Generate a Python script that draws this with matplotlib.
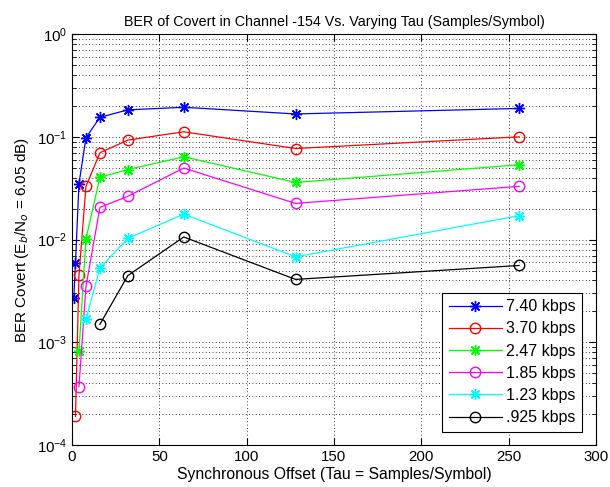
import numpy as np
import matplotlib.pyplot as plt
from matplotlib.ticker import LogLocator, NullFormatter

# ------------------------------------------------------------------
# DATI
# ------------------------------------------------------------------
x_740 = [1, 2, 4, 8, 16, 32, 64, 128, 256]
ber_740 = [0.0027, 0.0059, 0.035, 0.098, 0.155, 0.183, 0.194, 0.167, 0.189]

x_370 = [2, 4, 8, 16, 32, 64, 128, 256]
ber_370 = [1.9e-4, 0.0045, 0.033, 0.070, 0.093, 0.112, 0.077, 0.100]

x_247 = [4, 8, 16, 32, 64, 128, 256]
ber_247 = [8.2e-4, 0.0101, 0.0405, 0.048, 0.064, 0.036, 0.0535]

x_185 = [4, 8, 16, 32, 64, 128, 256]
ber_185 = [3.7e-4, 0.0035, 0.0206, 0.0264, 0.0497, 0.0225, 0.033]

x_123 = [8, 16, 32, 64, 128, 256]
ber_123 = [1.68e-3, 5.3e-3, 0.0103, 0.0177, 0.0068, 0.0171]

x_0925 = [16, 32, 64, 128, 256]
ber_0925 = [1.5e-3, 4.47e-3, 0.0106, 0.0041, 0.0056]

labels = ["7.40 kbps", "3.70 kbps", "2.47 kbps", "1.85 kbps", "1.23 kbps", ".925 kbps"]

plt.rcParams["font.family"] = ["Liberation Sans", "DejaVu Sans"]
plt.rcParams["font.size"] = 10.8

fig = plt.figure(figsize=(6.1, 4.87), dpi=100)
ax = fig.add_axes([0.118, 0.086, 0.859, 0.844])

# asterisco stile MATLAB ('*') = 8 bracci
ast = (8, 2, 0)
series = [
    (x_740, ber_740, (0, 0, 1), ast, 8),
    (x_370, ber_370, (1, 0, 0), "o", 7.5),
    (x_247, ber_247, (0, 1, 0), ast, 8),
    (x_185, ber_185, (1, 0, 1), "o", 7.5),
    (x_123, ber_123, (0, 1, 1), ast, 8),
    (x_0925, ber_0925, (0, 0, 0), "o", 7.5),
]
for (xs, ys, col, mk, ms), lab in zip(series, labels):
    ax.semilogy(xs, ys, color=col, marker=mk, markersize=ms, mfc="none",
                mec=col, mew=1.0, linewidth=0.9, label=lab)

ax.set_xlim(0, 300)
ax.set_ylim(1e-4, 1e0)
ax.set_xticks([0, 50, 100, 150, 200, 250, 300])
ax.yaxis.set_minor_locator(LogLocator(base=10, subs=np.arange(2, 10), numticks=20))
ax.yaxis.set_minor_formatter(NullFormatter())

ax.tick_params(which="both", direction="in", top=True, right=True)
ax.tick_params(which="major", length=5)
ax.tick_params(which="minor", length=3)

ax.grid(True, which="major", color="black", linestyle=(0, (1, 3)), linewidth=0.6)
ax.grid(True, which="minor", axis="y", color="black", linestyle=(0, (1, 3)), linewidth=0.6)

ax.set_title("BER of Covert in Channel -154 Vs. Varying Tau (Samples/Symbol)", fontsize=10.3)
ax.set_xlabel("Synchronous Offset (Tau = Samples/Symbol)", labelpad=2, fontsize=11.3)
ax.set_ylabel(r"BER Covert (E$_b$/N$_o$ = 6.05 dB)", fontsize=11)

leg = ax.legend(loc="lower right", fancybox=False, edgecolor="black",
                framealpha=1, borderaxespad=0.85, handlelength=3.3,
                handletextpad=0.3, labelspacing=0.45, fontsize=11.5)
leg.get_frame().set_linewidth(0.8)

plt.savefig("out.png", dpi=100)
